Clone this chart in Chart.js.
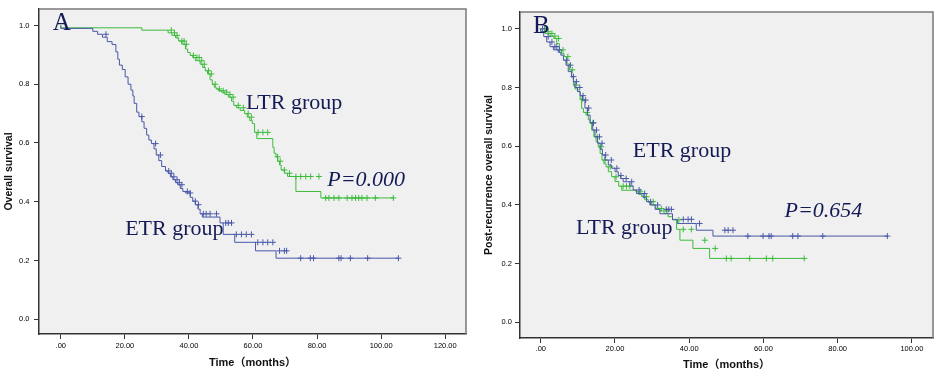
<!DOCTYPE html>
<html>
<head>
<meta charset="utf-8">
<script src="https://cdn.jsdelivr.net/npm/chart.js@4/dist/chart.umd.min.js"></script>
<style>
  body { margin: 0; background: #fff; }
  #wrap { position: relative; width: 938px; height: 372px; }
  canvas { position: absolute; top: 0; }
</style>
</head>
<body>
<div id="wrap">
  <canvas id="chartA" width="471" height="372" style="left:0"></canvas>
  <canvas id="chartB" width="468" height="372" style="left:470px"></canvas>
</div>
<script>
// ---- Panel A : overall survival ----
const etrA_t = [0, 10.0, 11.5, 13, 14.5, 16, 17.2, 17.8, 18.3, 19.2, 20.1, 21, 21.9, 22.5, 22.9, 23.7, 24.4, 25.3, 26, 26.8, 27.5, 28.3, 29.1, 29.8, 30.6, 31.5, 32.7, 33.5, 34.2, 35, 35.8, 36.5, 37.3, 38.1, 38.9, 40.4, 41.2, 42, 42.8, 43.5, 44.2, 49.7, 50.7, 54.3, 60.8, 67.2, 71, 105.4];
const etrA_s = [1.0, 0.99, 0.98, 0.97, 0.96, 0.945, 0.935, 0.91, 0.885, 0.865, 0.85, 0.825, 0.80, 0.78, 0.76, 0.735, 0.705, 0.69, 0.672, 0.65, 0.627, 0.61, 0.598, 0.58, 0.559, 0.54, 0.52, 0.505, 0.497, 0.485, 0.475, 0.465, 0.458, 0.445, 0.435, 0.43, 0.415, 0.402, 0.39, 0.375, 0.359, 0.348, 0.328, 0.289, 0.262, 0.233, 0.208, 0.208];
const etrA_cens = [14.1, 25.3, 29.6, 31.1, 33.7, 34.5, 35.3, 36.3, 37.0, 37.8, 39.5, 40.4, 42.0, 43.0, 44.5, 45.4, 46.6, 48.6, 51.5, 52.3, 53.3, 54.8, 56.4, 57.9, 59.5, 61.5, 63.1, 64.6, 66.2, 68.3, 69.8, 70.5, 74.9, 77.9, 78.9, 86.8, 87.5, 90.4, 95.8, 105.4];

const ltrA_t = [0, 25.3, 33.5, 34.7, 35.8, 36.8, 37.8, 38.9, 39.6, 40.4, 41.2, 42, 43.5, 44.3, 45.1, 45.8, 46.6, 47.3, 47.9, 48.5, 49.2, 50.2, 51.2, 52.3, 53.3, 54, 54.8, 56, 57.4, 58.2, 59, 59.8, 60.5, 61.2, 66.2, 66.6, 67.2, 67.7, 68.3, 68.8, 69.8, 70.8, 73.4, 81.2, 82.5, 103.8];
const ltrA_s = [1.0, 0.992, 0.984, 0.975, 0.966, 0.958, 0.947, 0.936, 0.92, 0.908, 0.898, 0.891, 0.88, 0.868, 0.857, 0.846, 0.835, 0.815, 0.80, 0.79, 0.784, 0.778, 0.773, 0.765, 0.756, 0.742, 0.728, 0.72, 0.711, 0.70, 0.688, 0.676, 0.666, 0.636, 0.615, 0.585, 0.565, 0.553, 0.538, 0.525, 0.508, 0.497, 0.486, 0.435, 0.413, 0.413];
const ltrA_cens = [34.5, 35.5, 36.3, 37.8, 38.5, 39.2, 41.4, 42.5, 43.2, 44.0, 44.8, 46.1, 47.0, 48.2, 49.5, 50.7, 51.8, 52.8, 53.8, 55.4, 57.0, 58.5, 59.5, 61.6, 63.1, 64.6, 67.7, 68.5, 69.8, 71.4, 73.4, 74.9, 76.5, 78.0, 80.6, 82.7, 83.7, 85.3, 86.8, 89.4, 90.9, 92.0, 93.0, 94.0, 95.6, 98.2, 103.8];

const xTicksA = [0, 20, 40, 60, 80, 100, 120];
const xLabelsA = ['.00', '20.00', '40.00', '60.00', '80.00', '100.00', '120.00'];

// ---- Panel B : post-recurrence overall survival ----
const etrB_t = [0, 0.8, 1.6, 2.5, 3.4, 4.7, 5.4, 6.1, 6.8, 7.4, 8.3, 8.8, 9.2, 9.9, 10.6, 11.2, 11.9, 12.6, 13.3, 14, 14.6, 15.3, 16, 16.6, 17.3, 18.2, 19.1, 20, 20.9, 21.5, 22.2, 24, 24.9, 25.8, 27.6, 28.5, 29.4, 30.8, 32.1, 35.5, 36.8, 41.9, 46.4, 52.2, 93.4];
const etrB_s = [1.0, 0.99, 0.973, 0.955, 0.939, 0.928, 0.92, 0.91, 0.893, 0.876, 0.854, 0.837, 0.82, 0.80, 0.786, 0.772, 0.757, 0.73, 0.706, 0.68, 0.655, 0.632, 0.61, 0.59, 0.57, 0.553, 0.536, 0.525, 0.513, 0.50, 0.49, 0.479, 0.465, 0.451, 0.439, 0.425, 0.411, 0.40, 0.385, 0.37, 0.351, 0.337, 0.314, 0.294, 0.294];
const etrB_cens = [0.5, 2.0, 3.0, 3.8, 4.3, 5.0, 7.0, 8.0, 8.8, 9.6, 10.5, 11.4, 12.1, 12.9, 14.2, 15.0, 15.8, 16.5, 17.5, 19.0, 20.5, 21.6, 23.0, 24.5, 26.5, 28.0, 29.6, 31.5, 33.8, 34.5, 35.2, 38.4, 39.7, 40.6, 42.8, 49.6, 50.5, 51.8, 55.8, 59.9, 61.5, 62.1, 67.9, 69.3, 76.0, 93.4];

const ltrB_t = [0, 1.2, 2.5, 3.5, 4.3, 5, 5.6, 6.3, 7, 7.7, 8.3, 8.8, 9.2, 10, 10.6, 11, 11.5, 12.2, 12.8, 13.3, 13.7, 14.3, 14.9, 15.5, 16, 16.5, 17, 17.6, 18.2, 19.1, 20, 21, 21.8, 25.7, 26.3, 27.2, 28, 29, 29.8, 31, 32.1, 33.2, 34.3, 35.5, 36.6, 37.5, 41, 45.5, 49.1, 71.0];
const ltrB_s = [1.0, 0.99, 0.984, 0.975, 0.967, 0.95, 0.928, 0.915, 0.905, 0.88, 0.86, 0.835, 0.808, 0.795, 0.786, 0.76, 0.729, 0.715, 0.706, 0.69, 0.678, 0.655, 0.632, 0.615, 0.598, 0.575, 0.553, 0.54, 0.53, 0.513, 0.496, 0.48, 0.464, 0.45, 0.445, 0.436, 0.428, 0.418, 0.411, 0.40, 0.388, 0.38, 0.371, 0.36, 0.349, 0.317, 0.28, 0.252, 0.218, 0.218];
const ltrB_cens = [1.0, 2.0, 3.0, 3.8, 4.8, 6.0, 7.3, 8.5, 9.5, 11.2, 12.5, 14.0, 15.2, 16.3, 17.3, 18.7, 20.3, 22.2, 23.1, 24.0, 26.8, 28.5, 30.3, 32.5, 34.0, 37.2, 38.4, 40.6, 44.2, 47.0, 50.0, 51.3, 56.3, 60.8, 62.5, 71.0];

const xTicksB = [0, 20, 40, 60, 80, 100];
const xLabelsB = ['.00', '20.00', '40.00', '60.00', '80.00', '100.00'];

const yTicks = [0, 0.2, 0.4, 0.6, 0.8, 1.0];
const yLabels = ['0.0', '0.2', '0.4', '0.6', '0.8', '1.0'];

const BLUE = '#4a58a8';
const GREEN = '#3dbb3d';
const INK = '#141a55';

function pts(t, s) { return t.map((x, i) => ({ x: x, y: s[i] })); }
// survival value of a step curve at time t (last step at or before t)
function survAt(t, s, x) {
  let v = s[0];
  for (let i = 0; i < t.length; i++) { if (t[i] <= x) v = s[i]; }
  return v;
}
function censPts(t, s, c) { return c.map(x => ({ x: x, y: survAt(t, s, x) })); }

const frame = {
  id: 'frame',
  beforeDraw(chart) {
    const { ctx, chartArea: a } = chart;
    ctx.save();
    ctx.fillStyle = '#f0f0f0';
    ctx.fillRect(a.left, a.top, a.right - a.left, a.bottom - a.top);
    ctx.restore();
  },
  afterDraw(chart, args, opts) {
    const { ctx, chartArea: a, scales } = chart;
    ctx.save();
    ctx.strokeStyle = '#7a7a7a';
    ctx.lineWidth = 1.5;
    ctx.beginPath();
    ctx.moveTo(a.left, a.top);
    ctx.lineTo(a.right, a.top);
    ctx.lineTo(a.right, a.bottom);
    ctx.stroke();
    ctx.fillStyle = INK;
    ctx.textBaseline = 'alphabetic';
    ctx.textAlign = 'left';
    opts.labels.forEach(l => {
      ctx.font = (l.italic ? 'italic ' : '') + l.size + 'px "Liberation Serif", "Times New Roman", serif';
      ctx.fillText(l.text, scales.x.getPixelForValue(l.x), scales.y.getPixelForValue(l.y));
    });
    ctx.restore();
  }
};

function panel(id, p) {
  const tickFont = { family: '"Liberation Sans", Arial, sans-serif', size: 7.5 };
  const titleFont = { family: '"Liberation Sans", Arial, "Noto Sans CJK SC", sans-serif', size: 11, weight: 'bold' };
  return new Chart(document.getElementById(id), {
    type: 'scatter',
    data: {
      datasets: [
        { data: pts(p.blueT, p.blueS), showLine: true, stepped: 'after', borderColor: BLUE, borderWidth: 1, pointRadius: 0 },
        { data: censPts(p.blueT, p.blueS, p.blueC), pointStyle: 'cross', pointRadius: 3, borderColor: BLUE, borderWidth: 1 },
        { data: pts(p.greenT, p.greenS), showLine: true, stepped: 'after', borderColor: GREEN, borderWidth: 1, pointRadius: 0 },
        { data: censPts(p.greenT, p.greenS, p.greenC), pointStyle: 'cross', pointRadius: 3, borderColor: GREEN, borderWidth: 1 }
      ]
    },
    options: {
      responsive: false,
      animation: false,
      layout: { padding: { top: p.padTop, right: p.padRight, left: 0, bottom: 0 } },
      plugins: {
        legend: { display: false },
        tooltip: { enabled: false },
        frame: { labels: p.labels }
      },
      scales: {
        x: {
          type: 'linear', min: p.xMin, max: p.xMax,
          afterBuildTicks: sc => { sc.ticks = p.xTicks.map(v => ({ value: v })); },
          afterFit: sc => { sc.height = p.xH; },
          ticks: { callback: (v, i) => p.xLabels[i], font: tickFont, color: '#000', padding: p.xPad, maxRotation: 0, autoSkip: false },
          grid: { drawOnChartArea: false, drawTicks: true, tickLength: 5, tickColor: '#333' },
          border: { color: '#333', width: 1.5 },
          title: { display: true, text: 'Time（months）', font: titleFont, color: '#111', padding: { top: 0, bottom: p.xTitlePad } }
        },
        y: {
          type: 'linear', min: p.yMin, max: p.yMax,
          afterBuildTicks: sc => { sc.ticks = yTicks.map(v => ({ value: v })); },
          afterFit: sc => { sc.width = p.yW; },
          ticks: { callback: (v, i) => yLabels[i], font: tickFont, color: '#000', padding: p.yPad, autoSkip: false },
          grid: { drawOnChartArea: false, drawTicks: true, tickLength: 5, tickColor: '#333' },
          border: { color: '#333', width: 1.5 },
          title: { display: true, text: p.yTitle, font: { family: '"Liberation Sans", Arial, sans-serif', size: 10.5, weight: 'bold' }, color: '#111', padding: { top: p.yTitlePad, bottom: 0 } }
        }
      }
    },
    plugins: [frame]
  });
}

panel('chartA', {
  blueT: etrA_t, blueS: etrA_s, blueC: etrA_cens,
  greenT: ltrA_t, greenS: ltrA_s, greenC: ltrA_cens,
  xMin: -6.8, xMax: 126.5, yMin: -0.05, yMax: 1.056,
  xTicks: xTicksA, xLabels: xLabelsA,
  padTop: 6, padRight: 1, yW: 39, xH: 38, xPad: 2.5, yPad: 4.5, xTitlePad: 2.4, yTitlePad: 3,
  yTitle: 'Overall survival',
  labels: [
    { text: 'A', x: -2.5, y: 0.985, size: 25 },
    { text: 'LTR group', x: 57.8, y: 0.716, size: 22 },
    { text: 'P=0.000', x: 83.2, y: 0.452, size: 22, italic: true },
    { text: 'ETR group', x: 20.1, y: 0.287, size: 22 }
  ]
});

panel('chartB', {
  blueT: etrB_t, blueS: etrB_s, blueC: etrB_cens,
  greenT: ltrB_t, greenS: ltrB_s, greenC: ltrB_cens,
  xMin: -5.6, xMax: 105.7, yMin: -0.053, yMax: 1.057,
  xTicks: xTicksB, xLabels: xLabelsB,
  padTop: 12, padRight: 4, yW: 50, xH: 34, xPad: 1.5, yPad: 3, xTitlePad: 0, yTitlePad: 13,
  yTitle: 'Post-recurrence overall survival',
  labels: [
    { text: 'B', x: -2.1, y: 0.985, size: 25 },
    { text: 'ETR group', x: 24.8, y: 0.563, size: 22 },
    { text: 'P=0.654', x: 65.7, y: 0.359, size: 22, italic: true },
    { text: 'LTR group', x: 9.5, y: 0.301, size: 22 }
  ]
});
</script>
</body>
</html>
